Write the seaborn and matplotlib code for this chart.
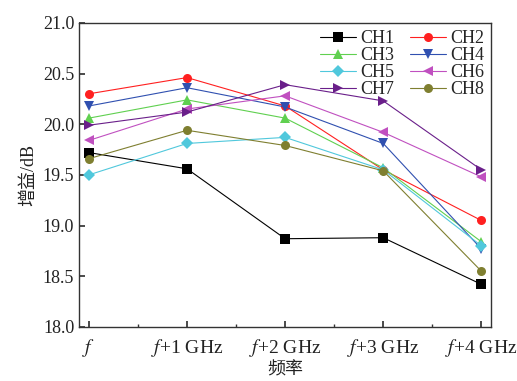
import pandas as pd
import seaborn as sns
import matplotlib.pyplot as plt
from matplotlib.ticker import MultipleLocator

freqs = ["$f$", "$f$+1 GHz", "$f$+2 GHz", "$f$+3 GHz", "$f$+4 GHz"]
channels = ["CH1", "CH2", "CH3", "CH4", "CH5", "CH6", "CH7", "CH8"]

ch1 = [19.72, 19.56, 18.87, 18.88, 18.42]
ch2 = [20.30, 20.46, 20.18, 19.55, 19.05]
ch3 = [20.06, 20.24, 20.06, 19.57, 18.84]
ch4 = [20.18, 20.36, 20.17, 19.81, 18.77]
ch5 = [19.50, 19.81, 19.87, 19.55, 18.80]
ch6 = [19.84, 20.15, 20.28, 19.92, 19.48]
ch7 = [19.99, 20.12, 20.39, 20.23, 19.55]
ch8 = [19.66, 19.94, 19.79, 19.54, 18.55]

colors = ["#000000", "#ff2020", "#60d050", "#3050b0", "#50c8dc", "#c050c0", "#6a1f8a", "#7f7f30"]
markers = ["s", "o", "^", "v", "D", "<", ">", "o"]

sns.set_theme(style="ticks")
plt.rcParams['font.family'] = ['Liberation Serif', 'Noto Sans CJK SC']
plt.rcParams['mathtext.fontset'] = 'stix'

# long-form table
rows = []
for name, vals in zip(channels, [ch1, ch2, ch3, ch4, ch5, ch6, ch7, ch8]):
    for i, v in enumerate(vals):
        rows.append({"x": i, "gain": v, "ch": name})
df = pd.DataFrame(rows)

fig, ax = plt.subplots(figsize=(5.17, 3.81), dpi=100)
fig.subplots_adjust(left=0.153, right=0.950, top=0.940, bottom=0.142)

sns.lineplot(data=df, x="x", y="gain", hue="ch", style="ch",
             palette=dict(zip(channels, colors)),
             markers=dict(zip(channels, markers)), dashes=False,
             markersize=6.5, linewidth=0.8, markeredgewidth=0, ax=ax)

ax.set_xlim(-0.1, 4.1)
ax.set_ylim(18.0, 21.0)
ax.set_xticks(range(5))
ax.set_xticklabels(freqs, fontsize=14)
ax.xaxis.set_minor_locator(MultipleLocator(0.5))
ax.yaxis.set_major_locator(MultipleLocator(0.5))
ax.yaxis.set_major_formatter(plt.FormatStrFormatter('%.1f'))
ax.tick_params(which='both', direction='in', colors='#333333', labelcolor='#222222')
ax.tick_params(axis='y', labelsize=13)
ax.tick_params(axis='x', pad=7)
ax.tick_params(which='major', length=4)
ax.tick_params(which='minor', length=2.5)
for s in ax.spines.values():
    s.set_color('#333333')
    s.set_linewidth(1.0)

ax.set_xlabel("频率", fontsize=13, color='#222222', labelpad=2)
ax.set_ylabel("增益/dB", fontsize=13, color='#222222', labelpad=4)

# row-wise legend order: CH1 CH2 / CH3 CH4 ...
handles, labels = ax.get_legend_handles_labels()
order = [0, 2, 4, 6, 1, 3, 5, 7]
leg = ax.legend([handles[i] for i in order], [labels[i] for i in order],
                loc='upper right', ncol=2, frameon=False, fontsize=13,
                handlelength=2.0, handletextpad=0.2, columnspacing=0.9,
                labelspacing=0.0, borderaxespad=0.0)

fig.savefig("out.png", dpi=100)
